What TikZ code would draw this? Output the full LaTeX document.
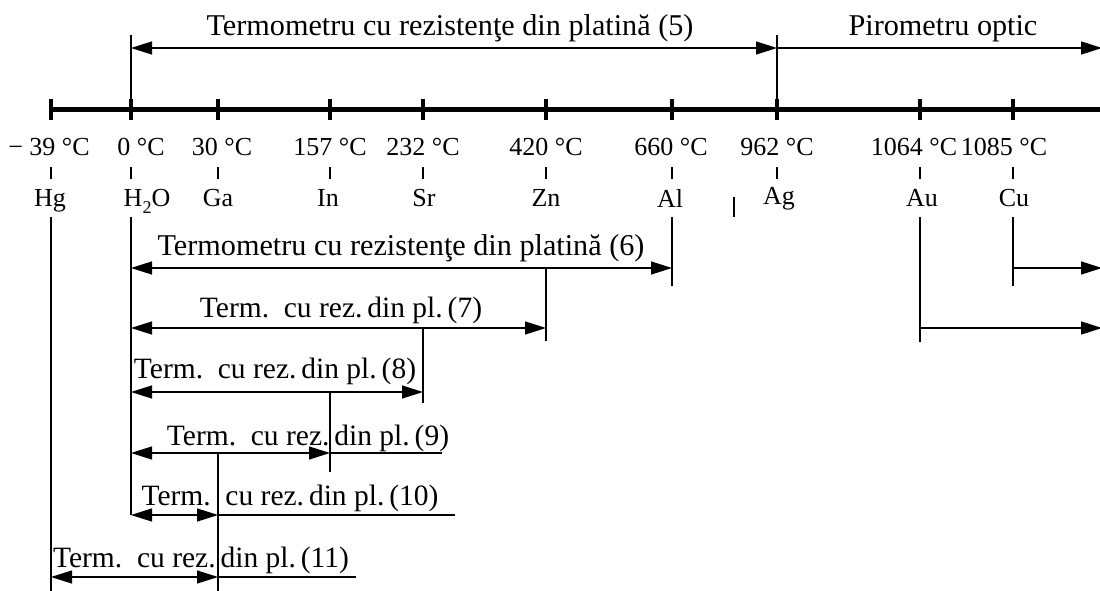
\documentclass[tikz,border=0pt]{standalone}
\usepackage{fontspec}
\setmainfont{Liberation Serif}
\usetikzlibrary{arrows.meta}
\newcommand\trlab[1]{Term.~~cu rez.\,din pl.\,(#1)}
\begin{document}
\begin{tikzpicture}[x=1pt,y=-1pt,
  thinln/.style={line width=1.3pt},
  axisln/.style={line width=5pt},
  axtick/.style={line width=4pt},
  dimln/.style={line width=1.3pt,{Triangle[length=21pt,width=13pt]}-{Triangle[length=21pt,width=13pt]}},
  rdimln/.style={line width=1.3pt,-{Triangle[length=21pt,width=13pt]}},
  biglab/.style={font=\fontsize{29.5}{34}\selectfont,inner sep=0pt,anchor=base},
  longlab/.style={font=\fontsize{30.2}{34}\selectfont,inner sep=0pt,anchor=base},
  smalllab/.style={font=\fontsize{26}{30}\selectfont,inner sep=0pt,anchor=base},
]
\useasboundingbox (0,0) rectangle (1100,591);
% element positions on the axis
\coordinate (Hg)  at (51,110);
\coordinate (H2O) at (131,110);
\coordinate (Ga)  at (218,110);
\coordinate (In)  at (330,110);
\coordinate (Sr)  at (423,110);
\coordinate (Zn)  at (546,110);
\coordinate (Al)  at (672,110);
\coordinate (Ag)  at (777,110);
\coordinate (Au)  at (920,110);
\coordinate (Cu)  at (1013,110);
\coordinate (End) at (1102,110);
% levels
\coordinate (top) at (0,35);
\coordinate (r5)  at (0,48);
\coordinate (st1) at (0,167);
\coordinate (st2) at (0,179);
\coordinate (lab) at (0,217);
\coordinate (r6)  at (0,268);
\coordinate (r6e) at (0,286);
\coordinate (r7)  at (0,328);
\coordinate (r7e) at (0,341);
\coordinate (r8)  at (0,392);
\coordinate (r8e) at (0,403);
\coordinate (r9)  at (0,453);
\coordinate (r9e) at (0,472);
\coordinate (r10) at (0,515);
\coordinate (r11) at (0,577);
\coordinate (bot) at (0,591);

% main axis
\draw[axisln] (Hg) -- (End);
\foreach \e in {Hg,H2O,Ga,In,Sr,Zn,Al,Ag,Au,Cu}
  \draw[axtick] ([yshift=10.5pt]\e) -- ([yshift=-10.5pt]\e);

% top ranges
\draw[thinln] (H2O |- top) -- (H2O);
\draw[thinln] (Ag |- top) -- (Ag);
\draw[dimln] (H2O |- r5) -- (Ag |- r5);
\draw[rdimln] (Ag |- r5) -- (End |- r5);
\node[longlab] (L5) at (450,36) {Termometru cu rezistenţe din platină (5)};
\node[longlab] (Lp) at (943,36) {Pirometru optic};

% temperature labels
\node[smalllab] (tHg)  at (49,156)   {− 39 °C};
\node[smalllab] (tH2O) at (141,156)  {0 °C};
\node[smalllab] (tGa)  at (222,156)  {30 °C};
\node[smalllab] (tIn)  at (330,156)  {157 °C};
\node[smalllab] (tSr)  at (423,156)  {232 °C};
\node[smalllab] (tZn)  at (546,156)  {420 °C};
\node[smalllab] (tAl)  at (671,156)  {660 °C};
\node[smalllab] (tAg)  at (777,156)  {962 °C};
\node[smalllab] (tAu)  at (914,156)  {1064 °C};
\node[smalllab] (tCu)  at (1004,156) {1085 °C};

% small ticks
\foreach \e in {Hg,H2O,Ga,In,Sr,Zn,Al,Ag,Au,Cu}
  \draw[thinln] (\e |- st1) -- (\e |- st2);
\coordinate (s1) at (734,197);
\coordinate (s2) at (734,217);
\draw[thinln] (s1) -- (s2);

% element labels
\node[smalllab] (eHg)  at (50,206)   {Hg};
\node[smalllab] (eH2O) at (147,206)  {H\raisebox{-0.28em}{\fontsize{18}{18}\selectfont 2}O};
\node[smalllab] (eGa)  at (218,206)  {Ga};
\node[smalllab] (eIn)  at (328,206)  {In};
\node[smalllab] (eSr)  at (424,206)  {Sr};
\node[smalllab] (eZn)  at (546,206)  {Zn};
\node[smalllab] (eAl)  at (670,207)  {Al};
\node[smalllab] (eAg)  at (779,204)  {Ag};
\node[smalllab] (eAu)  at (922,206)  {Au};
\node[smalllab] (eCu)  at (1014,206) {Cu};

% verticals
\draw[thinln] (Hg |- lab) -- (Hg |- bot);
\draw[thinln] (H2O |- lab) -- (H2O |- r10);
\draw[thinln] (Al |- lab) -- (Al |- r6e);
\draw[thinln] (Cu |- lab) -- (Cu |- r6e);
\draw[thinln] (Au |- lab) -- ([yshift=-14pt]Au |- r7);
\draw[thinln] (Zn |- r6) -- (Zn |- r7e);
\draw[thinln] (Sr |- r7) -- (Sr |- r8e);
\draw[thinln] (In |- r8) -- (In |- r9e);
\draw[thinln] (Ga |- r9) -- (Ga |- bot);

% right arrows
\draw[rdimln] (Cu |- r6) -- (End |- r6);
\draw[rdimln] (Au |- r7) -- (End |- r7);

% range arrows
\draw[dimln] (H2O |- r6) -- (Al |- r6);
\node[longlab] (L6) at (401,255) {Termometru cu rezistenţe din platină (6)};

\draw[dimln] (H2O |- r7) -- (Zn |- r7);
\node[biglab] (L7) at (341,317) {\trlab{7}};

\draw[dimln] (H2O |- r8) -- (Sr |- r8);
\node[biglab] (L8) at (275,378) {\trlab{8}};

\coordinate (e9) at (442,453);
\draw[dimln] (H2O |- r9) -- (In |- r9);
\draw[thinln] (In |- r9) -- (e9);
\node[biglab] (L9) at (308,445) {\trlab{9}};

\coordinate (e10) at (455,515);
\draw[dimln] (H2O |- r10) -- (Ga |- r10);
\draw[thinln] (Ga |- r10) -- (e10);
\node[biglab] (L10) at (290,505) {\trlab{10}};

\coordinate (e11) at (356,577);
\draw[dimln] (Hg |- r11) -- (Ga |- r11);
\draw[thinln] (Ga |- r11) -- (e11);
\node[biglab] (L11) at (201,567) {\trlab{11}};
\end{tikzpicture}
\end{document}
